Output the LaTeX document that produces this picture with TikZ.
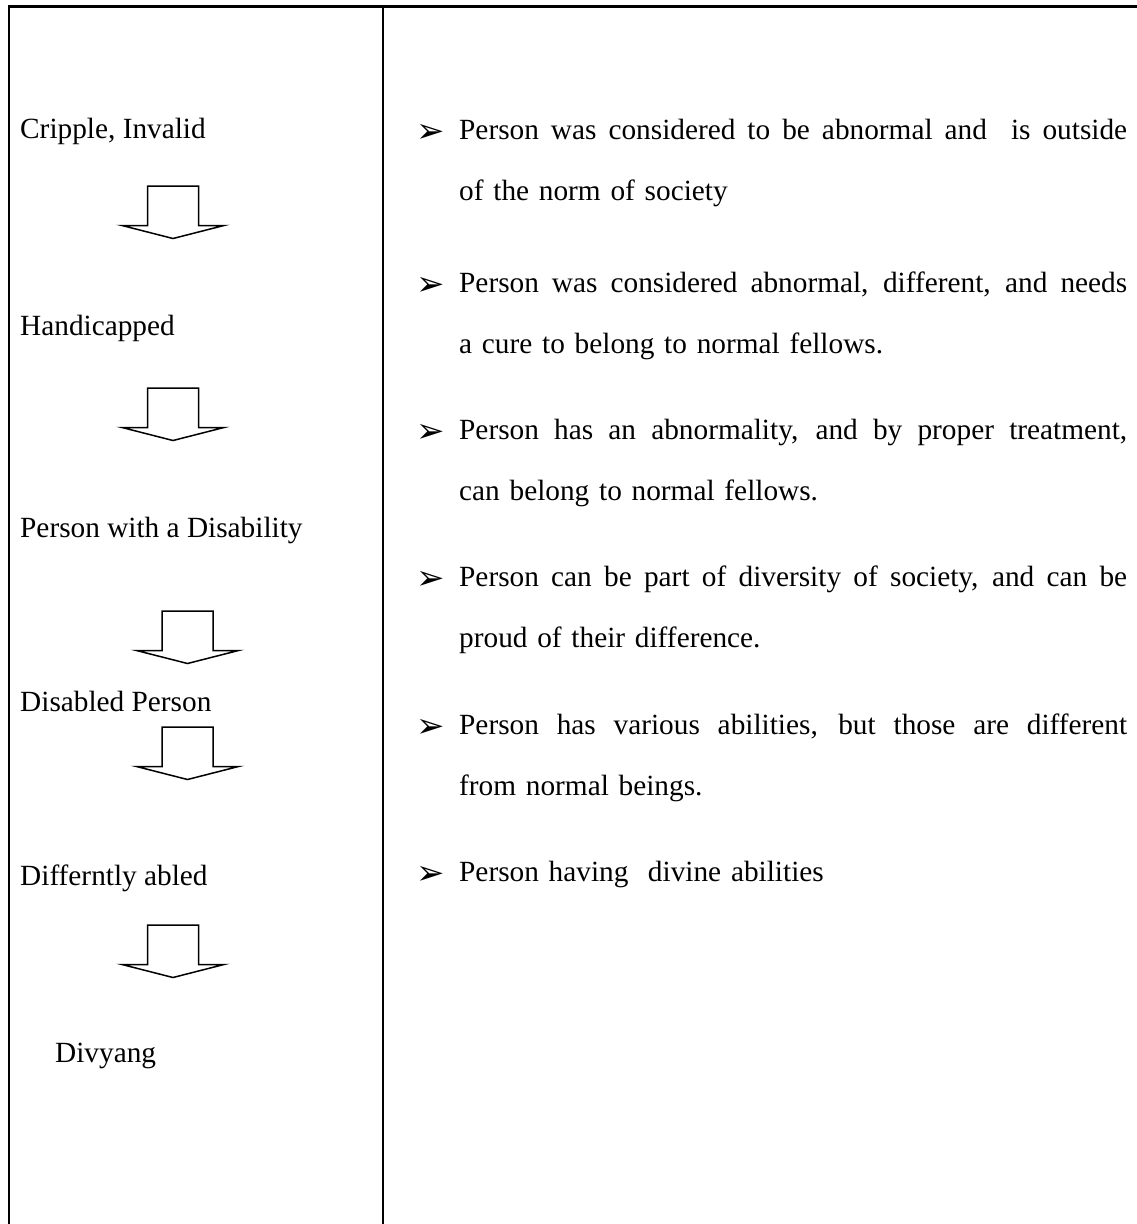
\documentclass[tikz,border=0pt]{standalone}
\usepackage{fontspec}
\setmainfont{Liberation Serif}
\newfontfamily\symbfont{DejaVu Sans}

\newcommand{\fullline}[1]{\hbox to 668pt{\spaceskip=0.25em plus 1fil\relax #1}}

\tikzset{
  frame/.style={line width=2.3pt},
  flowarrow/.style={line width=1.5pt, line join=miter},
  term/.style={anchor=base west, inner sep=0pt, font=\fontsize{29.3}{35}\selectfont},
  pointer/.style={anchor=base west, inner sep=0pt, font=\symbfont\fontsize{34}{36}\selectfont},
  remark/.style={anchor=base west, inner sep=0pt, text width=668pt, align=left,
    font=\fontsize{29.3}{61.5}\selectfont},
}

\begin{document}
\begin{tikzpicture}[x=1pt,y=-1pt]
      \useasboundingbox (0,0) rectangle (1137,1224);

      % table rules
      \draw[frame] (1137,6.5) -- (9,6.5) -- (9,1224);
      \draw[frame] (383,6.5) -- (383,1224);

      % older to newer terms
      \node[term] (cripple) at (20,138) {Cripple, Invalid};
      \node[term] (handicap) at (20,335) {Handicapped};
      \node[term] (pwd) at (20,537) {Person with a Disability};
      \node[term] (disabled) at (20,711) {Disabled Person};
      \node[term] (differ) at (20,885) {Differntly abled};
      \node[term] (divyang) at (55,1062) {Divyang};

      % block arrows between the terms
      \foreach \cx/\ty in {173/186, 173/388, 187.5/611, 187.5/727, 173/925}
        \draw[flowarrow] (\cx-25.5,\ty) -- ++(51,0) -- ++(0,39.5) -- ++(25.5,0)
          -- (\cx,\ty+52.5) -- (\cx-51,\ty+39.5) -- ++(25.5,0) -- cycle;

      % meaning of each term
      \foreach \i/\y in {1/139, 2/292, 3/439, 4/586, 5/734, 6/881}
        \node[pointer] (dot\i) at (416,\y+3) {➢};

      \node[remark] (mean1) at (459,139)
        {\fullline{Person was considered to be abnormal and\ \ is outside}\\of the norm of society};
      \node[remark] (mean2) at (459,292)
        {\fullline{Person was considered abnormal, different, and needs}\\a cure to belong to normal fellows.};
      \node[remark] (mean3) at (459,439)
        {\fullline{Person has an abnormality, and by proper treatment,}\\can belong to normal fellows.};
      \node[remark] (mean4) at (459,586)
        {\fullline{Person can be part of diversity of society, and can be}\\proud of their difference.};
      \node[remark] (mean5) at (459,734)
        {\fullline{Person has various abilities, but those are different}\\from normal beings.};
      \node[remark] (mean6) at (459,881) {Person having\ \ divine abilities};
\end{tikzpicture}
\end{document}
